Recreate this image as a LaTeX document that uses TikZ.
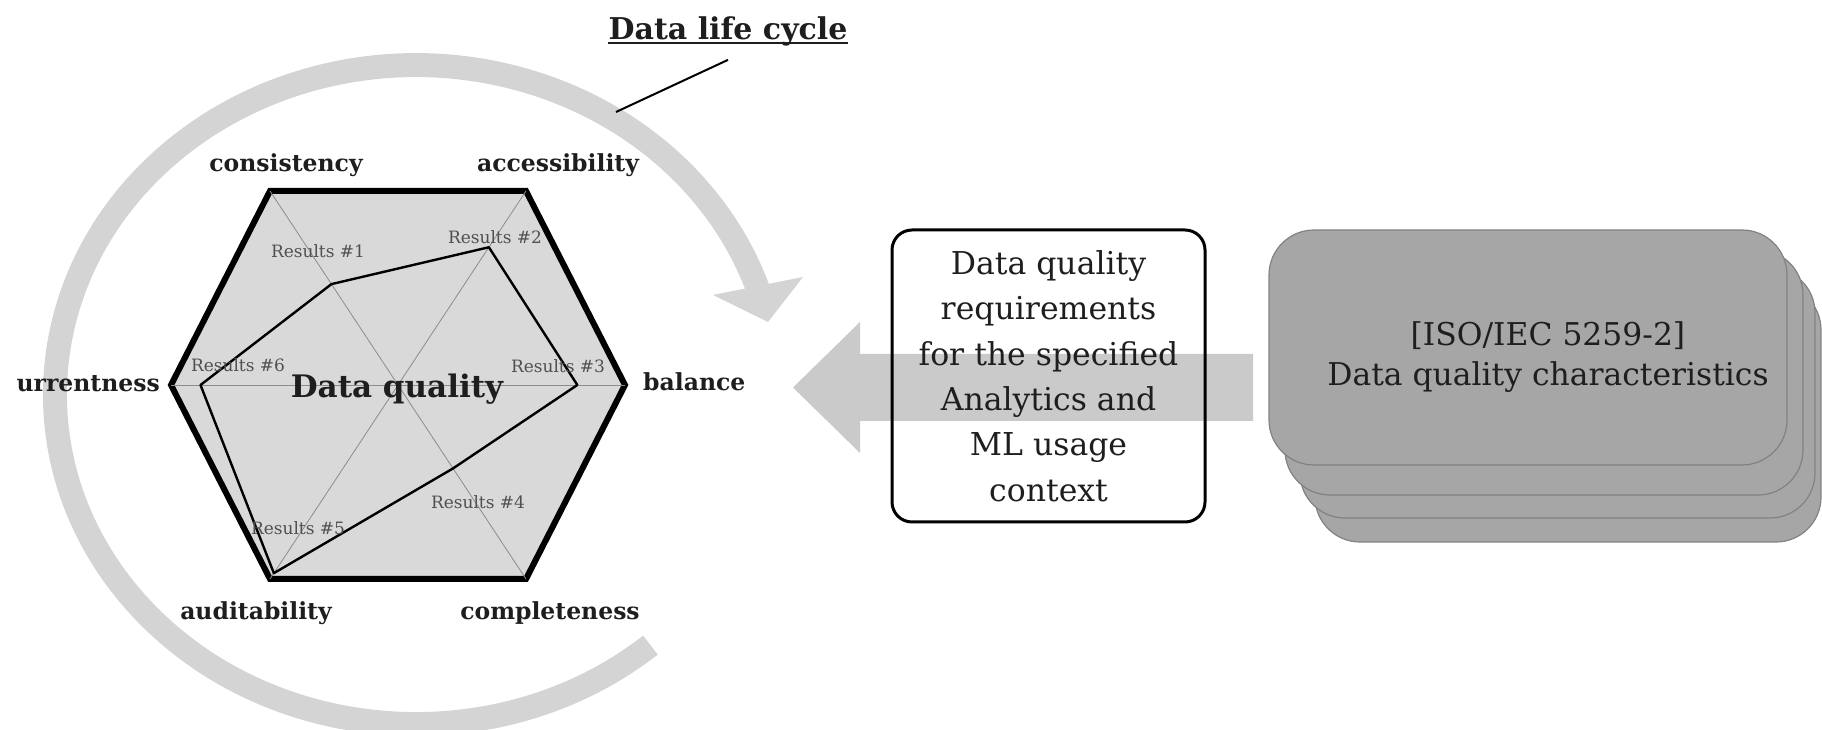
\documentclass[tikz,border=0pt]{standalone}
\usepackage{fontspec}
\setmainfont{DejaVu Serif}
\usetikzlibrary{calc,positioning}

\definecolor{hexfill}{RGB}{217,217,217}
\definecolor{cyclegray}{RGB}{212,212,212}
\definecolor{flowgray}{RGB}{202,202,202}
\definecolor{cardfill}{RGB}{166,166,166}
\definecolor{cardline}{RGB}{130,130,130}
\definecolor{resgray}{RGB}{80,80,80}
\definecolor{spokegray}{RGB}{140,140,140}
\definecolor{inkgray}{RGB}{30,30,30}

\tikzstyle{axislabel} = [font=\fontsize{23.5}{28}\selectfont\bfseries, text=inkgray, inner sep=0pt]
\tikzstyle{reslabel} = [font=\fontsize{17}{20}\selectfont, text=resgray, inner sep=0pt]
\tikzstyle{card} = [draw=cardline, fill=cardfill, line width=1.2pt, rounded corners=45pt]

\begin{document}
\begin{tikzpicture}[x=1pt,y=1pt,
    reqbox/.style={draw,line width=3pt,rounded corners=20pt,minimum width=313pt,minimum height=292pt,
        align=center,text=inkgray,font=\fontsize{31.5}{45.4}\selectfont,inner sep=0pt},
    cardtext/.style={align=center,text=inkgray,font=\fontsize{31.4}{40}\selectfont,inner sep=0pt},
    bigtitle/.style={font=\fontsize{30}{34}\selectfont\bfseries,text=inkgray,inner sep=0pt},
    ]
    \useasboundingbox (0,0) rectangle (1822,730);

    % life cycle band: bottom right -> left -> top -> arrow head
    \draw[cyclegray,line width=24pt] (650.4,84.9) arc[start angle=-49.5,end angle=-342,x radius=361pt,y radius=329.5pt];
    \fill[cyclegray] (713,435) -- (803,453) -- (768,408) -- cycle;

    % title and its leader line
    \node[bigtitle,anchor=base] (title) at (728,690) {Data life cycle};
    \draw[line width=2pt,inkgray] ([yshift=-3pt]title.base west) -- ([yshift=-3pt]title.base east);
    \coordinate (lifept) at (616,618);
    \draw[line width=2pt] ([yshift=-13pt]title.south) -- (lifept);

    % hexagon corners
    \coordinate (c) at (398,345);
    \coordinate (vcon) at (270,539);
    \coordinate (vacc) at (526,539);
    \coordinate (vbal) at (625,345);
    \coordinate (vcom) at (526,151);
    \coordinate (vaud) at (270,151);
    \coordinate (vcur) at (171,345);
    \filldraw[fill=hexfill,line width=6pt] (vcon) -- (vacc) -- (vbal) -- (vcom) -- (vaud) -- (vcur) -- cycle;

    % spokes
    \foreach \a/\b in {vcon/vcom,vacc/vaud,vcur/vbal}
        \draw[spokegray,line width=0.8pt] (\a) -- (\b);

    % results on each spoke
    \coordinate (r1) at ($(c)!0.52!(vcon)$);
    \coordinate (r2) at ($(c)!0.71!(vacc)$);
    \coordinate (r3) at ($(c)!0.79!(vbal)$);
    \coordinate (r4) at ($(c)!0.43!(vcom)$);
    \coordinate (r5) at ($(c)!0.97!(vaud)$);
    \coordinate (r6) at ($(c)!0.87!(vcur)$);
    \draw[line width=2.4pt,line join=round] (r1) -- (r2) -- (r3) -- (r4) -- (r5) -- (r6) -- cycle;

    \node[reslabel,anchor=base] (res1) at (318,472) {Results \#1};
    \node[reslabel,anchor=base] (res2) at (495,486) {Results \#2};
    \node[reslabel,anchor=base] (res3) at (558,357) {Results \#3};
    \node[reslabel,anchor=base] (res4) at (478,221) {Results \#4};
    \node[reslabel,anchor=base] (res5) at (298,195) {Results \#5};
    \node[reslabel,anchor=base] (res6) at (238,358) {Results \#6};

    \node[bigtitle,font=\fontsize{31}{36}\selectfont\bfseries,anchor=base] (dq) at (397,332) {Data quality};

    % axis names
    \node[axislabel,anchor=base] (consistency) at (286,558) {consistency};
    \node[axislabel,anchor=base] (accessibility) at (558,558) {accessibility};
    \node[axislabel,anchor=base west] (balance) at (643,339) {balance};
    \node[axislabel,anchor=base] (completeness) at (550,110) {completeness};
    \node[axislabel,anchor=base] (auditability) at (256,110) {auditability};
    \node[axislabel,anchor=base east] (currentness) at (160,338) {urrentness};

    % wide arrow from the characteristics to the requirements
    \fill[flowgray] (793,342.5) -- (860,408) -- (860,376) -- (1253,376) -- (1253,309) -- (860,309) -- (860,277) -- cycle;

    \node[reqbox] (req) at (1048.5,354) {Data quality\\requirements\\for the specified\\Analytics and\\ML usage\\context};

    % stack of cards, back to front
    \node[card,minimum width=506pt,minimum height=257pt] (card4) at (1568,316.5) {};
    \node[card,minimum width=515pt,minimum height=250pt] (card3) at (1557.5,337) {};
    \node[card,minimum width=518pt,minimum height=245pt] (card2) at (1544,357.5) {};
    \node[card,minimum width=518pt,minimum height=235pt] (card1) at (1528,382.5) {};
    \node[cardtext] (iso) at (1548,372.5) {[ISO/IEC 5259-2]\\Data quality characteristics};
\end{tikzpicture}
\end{document}
